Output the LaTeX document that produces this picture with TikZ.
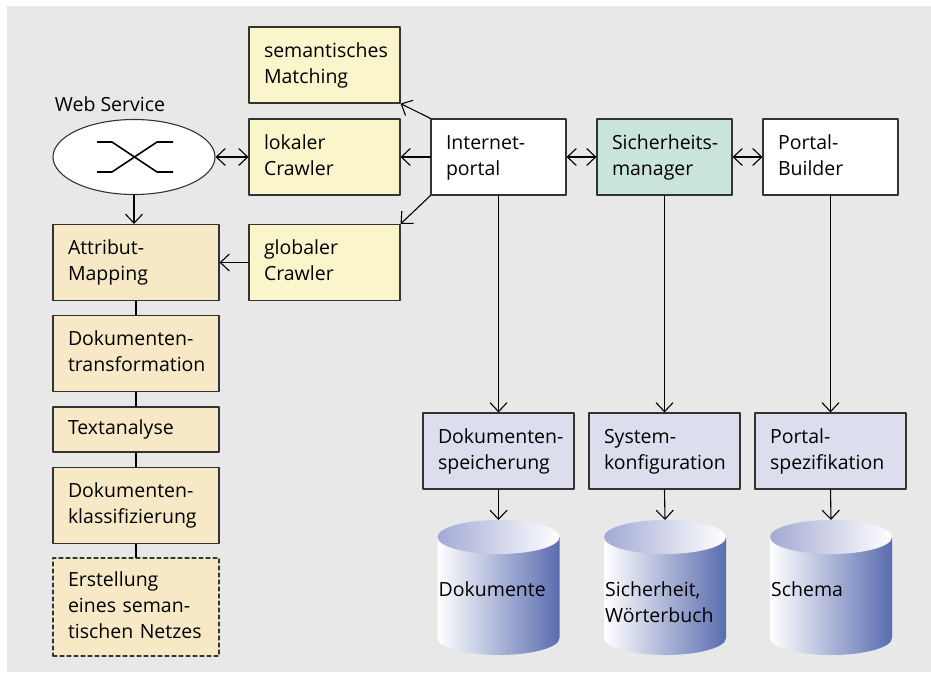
\documentclass[tikz,border=0pt]{standalone}
\usepackage{fontspec}
\setmainfont{Open Sans}
\usepackage{xcolor}
\usepackage{tikz}
\usetikzlibrary{arrows.meta, shapes.geometric}
\definecolor{paneGray}{HTML}{E8E8E8}
\definecolor{boxInk}{HTML}{333333}
\definecolor{crawlYellow}{HTML}{FBF5CC}
\definecolor{procBeige}{HTML}{F7E9C6}
\definecolor{secMint}{HTML}{C9E4DC}
\definecolor{specLilac}{HTML}{DCDDED}
\definecolor{dbBlue}{HTML}{5A6CB0}
\definecolor{dbLid}{HTML}{A3AAD4}

\begin{document}
\begin{tikzpicture}[x=1pt, y=-1pt, line cap=round, line join=round,
    font=\fontsize{19.5}{26}\selectfont,
    >={Straight Barb[length=9pt, width=17pt]},
    cbox/.style={draw=boxInk, line width=1.1pt, align=left, inner xsep=15pt, inner ysep=0pt, minimum height=76pt,
      execute at begin node={\hyphenpenalty=10000\exhyphenpenalty=10000\hbadness=10000\hfuzz=40pt\strut},
      execute at end node={\strut}},
    crawlbox/.style={cbox, fill=crawlYellow, text width=121pt},
    procbox/.style={cbox, fill=procBeige, text width=136pt},
    portbox/.style={cbox, fill=white, text width=105pt},
    specbox/.style={cbox, fill=specLilac, text width=121pt},
    link/.style={draw=black, line width=1.1pt},
    dblabel/.style={anchor=north west, align=left, inner sep=0pt}]
  \useasboundingbox (0,0) rectangle (931,680);
  \fill[paneGray] (7,6) rectangle (931,672);

  % crawler column
  \node[crawlbox] (semMatch) at (324.5,65) {semantisches\\Matching};
  \node[crawlbox] (lokCrawl) at (324.5,157) {lokaler\\Crawler};
  \node[crawlbox] (globCrawl) at (324.5,262.5) {globaler\\Crawler};

  % portal row
  \node[portbox] (portal) at (498.5,157) {Internet-\\portal};
  \node[portbox, fill=secMint] (secMgr) at (664.5,157) {Sicherheits-\\manager};
  \node[portbox] (builder) at (830.5,157) {Portal-\\Builder};

  % web service
  \node[draw=boxInk, line width=1.1pt, fill=white, ellipse, minimum width=162pt, minimum height=75pt] (webserv) at (134,157) {};
  \node (wslabel) at (110,104) {Web Service};
  \draw[shift={(webserv.center)}, line width=1.6pt, line cap=butt]
    (-37,-15) -- (-22,-15) -- (23,15) -- (39,15)
    (-37,15) -- (-22,15) -- (23,-15) -- (39,-15);

  % processing chain
  \node[procbox] (attrMap) at (136,262.5) {Attribut-\\Mapping};
  \node[procbox] (transform) at (136,353.5) {Dokumenten-\\transformation};
  \node[procbox, minimum height=45pt] (textAn) at (136,429.5) {Textanalyse};
  \node[procbox] (classify) at (136,505.5) {Dokumenten-\\klassifizierung};
  \node[procbox, minimum height=98pt, dashed, dash pattern=on 4pt off 3pt] (semNet) at (136,607) {Erstellung\\eines seman-\\tischen Netzes};

  % storage
  \node[specbox] (docStore) at (498.5,451) {Dokumenten-\\speicherung};
  \node[specbox] (sysConf) at (664.5,451) {System-\\konfiguration};
  \node[specbox] (portSpec) at (830.5,451) {Portal-\\spezifikation};

  \foreach \x/\db/\lbl in {498.5/dbDocs/Dokumente, 665/dbSec/{Sicherheit,\\Wörterbuch}, 831/dbSchema/Schema}{%
    \shade[left color=white, middle color=white, right color=dbBlue]
      (\x-61,537) -- (\x-61,638) arc[start angle=180, end angle=360, x radius=61pt, y radius=17pt]
      -- (\x+61,537) -- cycle;
    \shade[left color=dbLid, right color=white] (\x,537) ellipse[x radius=61pt, y radius=17pt];
    \coordinate (\db) at (\x,520);
    \node[dblabel] at (\x-60,581) {\lbl};
  }

  % connectors
  \draw[link, ->] (portal.north west) -- (semMatch.south east);
  \draw[link, ->] (portal.west) -- (lokCrawl.east);
  \draw[link, ->] (portal.south west) -- (globCrawl.north east);
  \draw[link, <->] (lokCrawl.west) -- (webserv.east);
  \draw[link, <->] (portal.east) -- (secMgr.west);
  \draw[link, <->] (secMgr.east) -- (builder.west);
  \draw[link, ->] (globCrawl.west) -- (attrMap.east);
  \draw[link, ->] (webserv.south) -- (webserv.south |- attrMap.north);
  \draw[link] (attrMap) -- (transform) (transform) -- (textAn) (textAn) -- (classify) (classify) -- (semNet);
  \draw[link, ->] (portal.south) -- (docStore.north);
  \draw[link, ->] (secMgr.south) -- (sysConf.north);
  \draw[link, ->] (builder.south) -- (portSpec.north);
  \draw[link, ->] (docStore.south) -- (dbDocs);
  \draw[link, ->] (sysConf.south) -- (dbSec);
  \draw[link, ->] (portSpec.south) -- (dbSchema);
\end{tikzpicture}
\end{document}
